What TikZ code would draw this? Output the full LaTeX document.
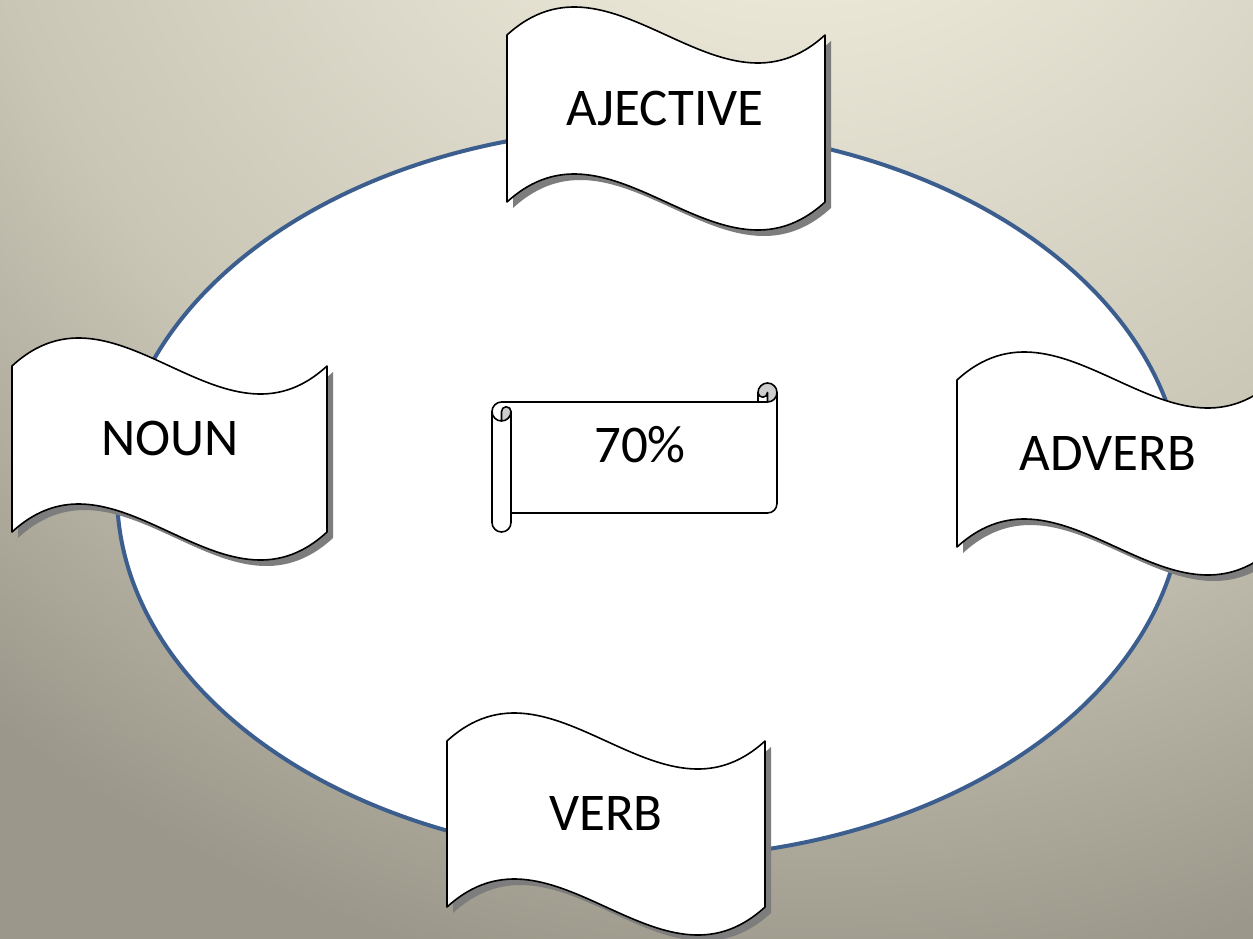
\documentclass[tikz,border=0pt]{standalone}
\usepackage{fontspec}
\setmainfont{Carlito}
\definecolor{bgA}{RGB}{234,230,214}
\definecolor{bgB}{RGB}{221,218,203}
\definecolor{bgC}{RGB}{201,198,182}
\definecolor{bgD}{RGB}{155,151,138}
\definecolor{ellblue}{RGB}{60,94,142}
\definecolor{shadowgray}{RGB}{125,125,125}
\definecolor{curlgray}{RGB}{205,205,205}
% used at natural size: 1bp is about 2 px (1 px = 0.5pt)
\pgfdeclareradialshading{bgshade}{\pgfpointorigin}{color(0bp)=(bgA); color(149bp)=(bgA); color(249bp)=(bgB); color(423bp)=(bgC); color(648bp)=(bgD); color(800bp)=(bgD)}
\newcommand\flagshape[4]{(#1,#2) .. controls ({#1+#4/3},{#2-97}) and ({#1+2*#4/3},{#2+97}) .. ({#1+#4},#2) -- ({#1+#4},#3) .. controls ({#1+2*#4/3},{#3+97}) and ({#1+#4/3},{#3-97}) .. (#1,#3) -- cycle}
\begin{document}
\begin{tikzpicture}[x=0.5pt,y=-0.5pt,
  flagbox/.style={fill=white,draw=black,line width=0.8pt,line join=round},
  flagshadow/.style={fill=shadowgray,shift={(6,6)}},
  label/.style={font=\fontsize{26.5}{31}\selectfont,anchor=base,inner sep=0pt,text=black},
  scrollline/.style={draw=black,line width=0.8pt,line join=round,line cap=round}]
\useasboundingbox (0,0) rectangle (1253,938);
\begin{scope}
\clip (0,0) rectangle (1253,938);
\node[inner sep=0pt,outer sep=0pt] (bg) at (800,-300) {\pgfuseshading{bgshade}};
% ellipse
\draw[line width=2pt,draw=ellblue,fill=white] (650,493) ellipse [x radius=533, y radius=365];
% flags
\fill[flagshadow] \flagshape{507}{35}{202}{318};
\draw[flagbox] \flagshape{507}{35}{202}{318};
\fill[flagshadow] \flagshape{12}{366}{532}{315};
\draw[flagbox] \flagshape{12}{366}{532}{315};
\fill[flagshadow] \flagshape{957}{380}{547}{318};
\draw[flagbox] \flagshape{957}{380}{547}{318};
\fill[flagshadow] \flagshape{447}{741}{907}{318};
\draw[flagbox] \flagshape{447}{741}{907}{318};
% scroll
\fill[white] (492,411.5) arc(180:270:9.5) -- (758,402) -- (758,392.5) arc(180:360:9.5) -- (777,503.5) arc(0:90:9.5) -- (511,513) -- (511,522.5) arc(0:180:9.5) -- cycle;
\fill[curlgray] (767.5,402) arc(90:-180:9.5) arc(180:0:4.75) -- cycle;
\fill[curlgray] (501.5,421) arc(90:0:9.5) arc(0:-180:4.75) -- cycle;
\draw[scrollline] (492,411.5) arc(180:270:9.5) -- (758,402) -- (758,392.5) arc(180:360:9.5) -- (777,503.5) arc(0:90:9.5) -- (511,513) -- (511,522.5) arc(0:180:9.5) -- cycle;
\draw[scrollline] (758,402) -- (767.5,402) arc(90:0:9.5);
\draw[scrollline] (767.5,402) -- (767.5,392.5) arc(0:180:4.75);
\draw[scrollline] (501.5,421) -- (501.5,411.5) arc(180:360:4.75) arc(0:180:9.5);
\draw[scrollline] (511,411.5) -- (511,513);
% labels
\node[label] (adj) at (665,125) {AJECTIVE};
\node[label] (noun) at (170,455) {NOUN};
\node[label] (adv) at (1108,470) {ADVERB};
\node[label] (verb) at (606,830) {VERB};
\node[label] (pct) at (640,462) {70\%};
\end{scope}
\end{tikzpicture}
\end{document}
